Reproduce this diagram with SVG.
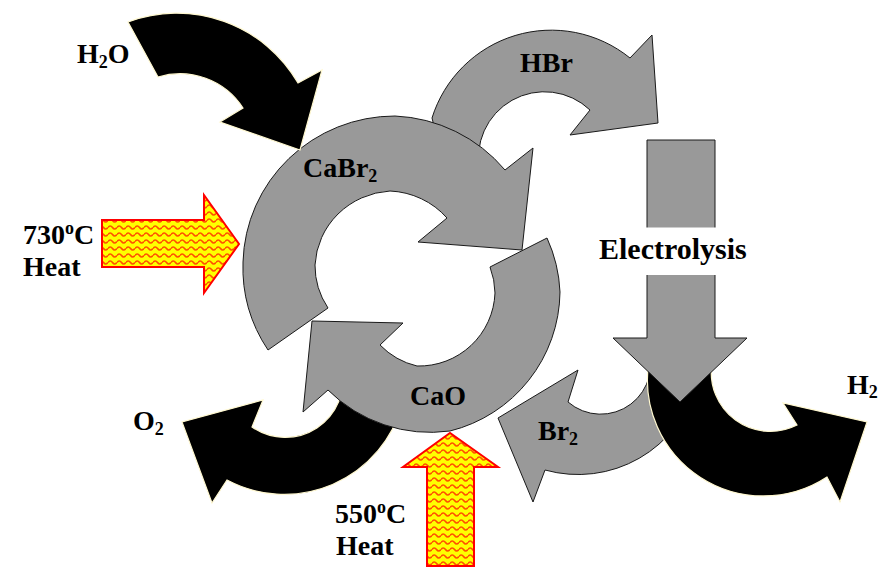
<svg xmlns="http://www.w3.org/2000/svg" width="885" height="567" viewBox="0 0 885 567">
<style>
.gray{fill:#999999;stroke:#1a1a1a;stroke-width:1;stroke-linejoin:miter}
.black{fill:#000000;stroke:#fff8d0;stroke-width:1.2;stroke-linejoin:miter}
.heat{fill:url(#wave);stroke:#ff0000;stroke-width:2}
.lbl{font-family:"Liberation Serif","Times New Roman",serif;font-weight:bold;font-size:28px;fill:#000}
.sub{font-size:18px}
.sup{font-size:18px}
</style>
<defs>
<pattern id="wave" width="9" height="7" patternUnits="userSpaceOnUse">
<rect width="9" height="7" fill="#ffff00"/>
<path d="M0,3.5 Q2.25,0.5 4.5,3.5 T9,3.5" fill="none" stroke="#ff5000" stroke-width="1.7"/>
</pattern>
</defs>
<rect width="885" height="567" fill="#ffffff"/>

<g id="hbr-arrow">
<path class="gray" d="M432,118 A125,125 0 0 1 630,58 L652,35 L658,123 L570,135 L590,110 A66,66 0 0 0 480,172 L440,150 Z"/>
</g>

<g id="cabr2-arrow">
<path class="gray" d="M268,350 A152,150 0 0 1 243,262 A152,150 0 0 1 395,116 A152,150 0 0 1 505,170 L533,148 L522,250 L418,242 L447,218 A80,78 0 0 0 390,191 A80,78 0 0 0 315,265 A80,78 0 0 0 328,308 Z"/>
</g>

<g id="o2-arrow">
<path class="black" d="M402,405 A122,122 0 0 1 227,480 L212,503 L182,422 L263,400 L252,427 A58,58 0 0 0 342,368 Z"/>
</g>

<g id="cao-arrow">
<path class="gray" d="M547,238 A145,145 0 0 1 560,292 A145,145 0 0 1 450,431 A145,145 0 0 1 328,390 L303,412 L312,321 L403,323 L380,345 A76,76 0 0 0 417,366 A76,76 0 0 0 495,293 A76,76 0 0 0 490,267 Z"/>
</g>

<g id="br2-arrow">
<path class="gray" d="M545,470 L533,502 L498,418 L578,370 L568,402 A50,50 0 0 0 646,343 L697,383 A123,123 0 0 1 545,470 Z"/>
</g>

<g id="h2-arrow">
<path class="black" d="M649,361 A116,116 0 0 0 827,477 L840,502 L867,422 L783,403 L797,425 A59,59 0 0 1 712,363 Z"/>
</g>

<g id="electrolysis-arrow">
<path class="gray" d="M647,140 L715,140 L715,338 L747,338 L680,402 L613,338 L647,338 Z"/>
<rect x="640" y="227.5" width="82" height="47.5" fill="#ffffff"/>
<text class="lbl" x="599" y="259" style="font-size:30px">Electrolysis</text>
</g>

<g id="h2o-arrow">
<path class="black" d="M128,22 A140,140 0 0 1 298,83 L322,70 L300,150 L220,122 L243,108 A75,75 0 0 0 158,77 Z"/>
</g>

<g id="heat-730">
<path class="heat" d="M102,220 L204,220 L204,195 L239,244 L204,293 L204,267 L102,267 Z"/>
</g>

<g id="heat-550">
<path class="heat" d="M427,566 L427,467 L403,467 L450,433 L498,467 L474,467 L474,566 Z"/>
</g>

<g id="labels">
<text class="lbl" x="77" y="63">H<tspan class="sub" dy="5">2</tspan><tspan dy="-5">O</tspan></text>
<text class="lbl" x="520" y="72">HBr</text>
<text class="lbl" x="303" y="177">CaBr<tspan class="sub" dy="5">2</tspan></text>
<text class="lbl" x="410" y="405">CaO</text>
<text class="lbl" x="133" y="430">O<tspan class="sub" dy="5">2</tspan></text>
<text class="lbl" x="847" y="394">H<tspan class="sub" dy="4">2</tspan></text>
<text class="lbl" x="538" y="440">Br<tspan class="sub" dy="5">2</tspan></text>
<text class="lbl" x="23" y="244">730<tspan class="sup" dy="-10">o</tspan><tspan dy="10">C</tspan></text>
<text class="lbl" x="23" y="276">Heat</text>
<text class="lbl" x="335" y="523">550<tspan class="sup" dy="-10">o</tspan><tspan dy="10">C</tspan></text>
<text class="lbl" x="336" y="555">Heat</text>
</g>
</svg>
